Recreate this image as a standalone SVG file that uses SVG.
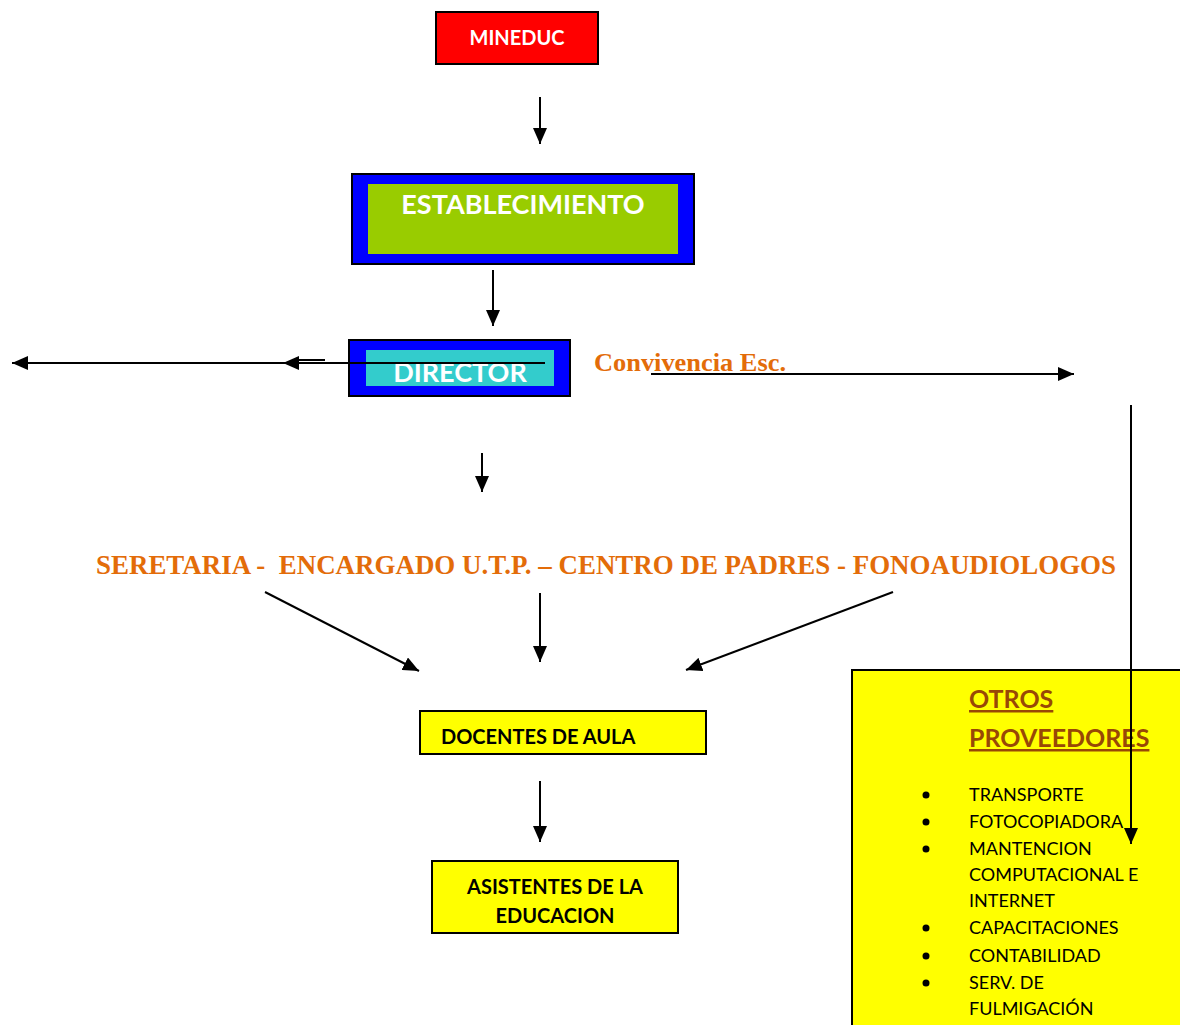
<svg xmlns="http://www.w3.org/2000/svg" width="1180" height="1025" viewBox="0 0 1180 1025">
<defs>
<style>
.b{stroke:#000;stroke-width:2}
.w{fill:#fff;font-family:Lato,"Open Sans",sans-serif;font-weight:bold}
.k{fill:#000;font-family:Lato,"Open Sans",sans-serif;font-weight:bold;font-size:20px}
.o{fill:#e36c09;font-family:"Liberation Serif",serif;font-weight:bold}
.li{fill:#000;font-family:Lato,"Open Sans",sans-serif;font-size:18px}
.c{stroke:#000;stroke-width:2;fill:none}
</style>
<marker id="a" viewBox="0 0 16 14" refX="16" refY="7" markerWidth="16" markerHeight="14" markerUnits="userSpaceOnUse" orient="auto">
<path d="M0,0 L16,7 L0,14 z" fill="#000"/>
</marker>
</defs>
<rect width="1180" height="1025" fill="#fff"/>
<g id="mineduc">
<rect x="436" y="12" width="162" height="52" fill="#ff0000" class="b"/>
<text x="517" y="45" class="w" font-size="20" text-anchor="middle">MINEDUC</text>
</g>
<g id="establecimiento">
<rect x="352" y="174" width="342" height="90" fill="#0000ff" class="b"/>
<rect x="368" y="184" width="310" height="70" fill="#99cc00"/>
<text x="523" y="214" class="w" font-size="27" text-anchor="middle">ESTABLECIMIENTO</text>
</g>
<g id="director">
<rect x="349" y="340" width="221" height="56" fill="#0000ff" class="b"/>
<rect x="366" y="350" width="188" height="36" fill="#33cccc"/>
<text x="460" y="382" class="w" font-size="27" text-anchor="middle">DIRECTOR</text>
</g>
<g id="convivencia">
<text x="594" y="371" class="o" font-size="26" textLength="192" lengthAdjust="spacingAndGlyphs">Convivencia Esc.</text>
</g>
<g id="seretaria">
<text x="96" y="574" class="o" font-size="28" textLength="1020" lengthAdjust="spacingAndGlyphs" xml:space="preserve">SERETARIA -  ENCARGADO U.T.P. – CENTRO DE PADRES - FONOAUDIOLOGOS</text>
</g>
<g id="docentes">
<rect x="420" y="711" width="286" height="43" fill="#ffff00" class="b"/>
<text x="441" y="744" class="k">DOCENTES DE AULA</text>
</g>
<g id="asistentes">
<rect x="432" y="861" width="246" height="72" fill="#ffff00" class="b"/>
<text x="555" y="894" class="k" text-anchor="middle">ASISTENTES DE LA</text>
<text x="555" y="923" class="k" text-anchor="middle">EDUCACION</text>
</g>
<g id="otros">
<rect x="852" y="670" width="340" height="370" fill="#ffff00" class="b"/>
<text x="969" y="708" fill="#984806" font-family="Lato,'Open Sans',sans-serif" font-weight="bold" font-size="25" text-decoration="underline">OTROS</text>
<text x="969" y="747" fill="#984806" font-family="Lato,'Open Sans',sans-serif" font-weight="bold" font-size="25" text-decoration="underline">PROVEEDORES</text>
<g fill="#000">
<circle cx="926" cy="795" r="3.5"/><circle cx="926" cy="822" r="3.5"/><circle cx="926" cy="849" r="3.5"/>
<circle cx="926" cy="928" r="3.5"/><circle cx="926" cy="956" r="3.5"/><circle cx="926" cy="983" r="3.5"/>
</g>
<text x="969" y="801" class="li">TRANSPORTE</text>
<text x="969" y="828" class="li">FOTOCOPIADORA</text>
<text x="969" y="855" class="li">MANTENCION</text>
<text x="969" y="881" class="li">COMPUTACIONAL E</text>
<text x="969" y="907" class="li">INTERNET</text>
<text x="969" y="934" class="li">CAPACITACIONES</text>
<text x="969" y="962" class="li">CONTABILIDAD</text>
<text x="969" y="989" class="li">SERV. DE</text>
<text x="969" y="1015" class="li">FULMIGACIÓN</text>
</g>
<g id="connectors">
<line x1="540" y1="97" x2="540" y2="144" class="c" marker-end="url(#a)"/>
<line x1="493" y1="270" x2="493" y2="326" class="c" marker-end="url(#a)"/>
<line x1="349" y1="363" x2="12" y2="363" class="c" marker-end="url(#a)"/>
<line x1="545" y1="363" x2="283" y2="363" class="c" marker-end="url(#a)"/>
<line x1="298" y1="360" x2="325" y2="360" class="c"/>
<line x1="651" y1="374" x2="1074" y2="374" class="c" marker-end="url(#a)"/>
<line x1="1131" y1="405" x2="1131" y2="844" class="c" marker-end="url(#a)"/>
<line x1="482" y1="453" x2="482" y2="492" class="c" marker-end="url(#a)"/>
<line x1="265" y1="592" x2="419" y2="671" class="c" marker-end="url(#a)"/>
<line x1="540" y1="593" x2="540" y2="662" class="c" marker-end="url(#a)"/>
<line x1="893" y1="592" x2="686" y2="670" class="c" marker-end="url(#a)"/>
<line x1="540" y1="781" x2="540" y2="842" class="c" marker-end="url(#a)"/>
</g>
</svg>
